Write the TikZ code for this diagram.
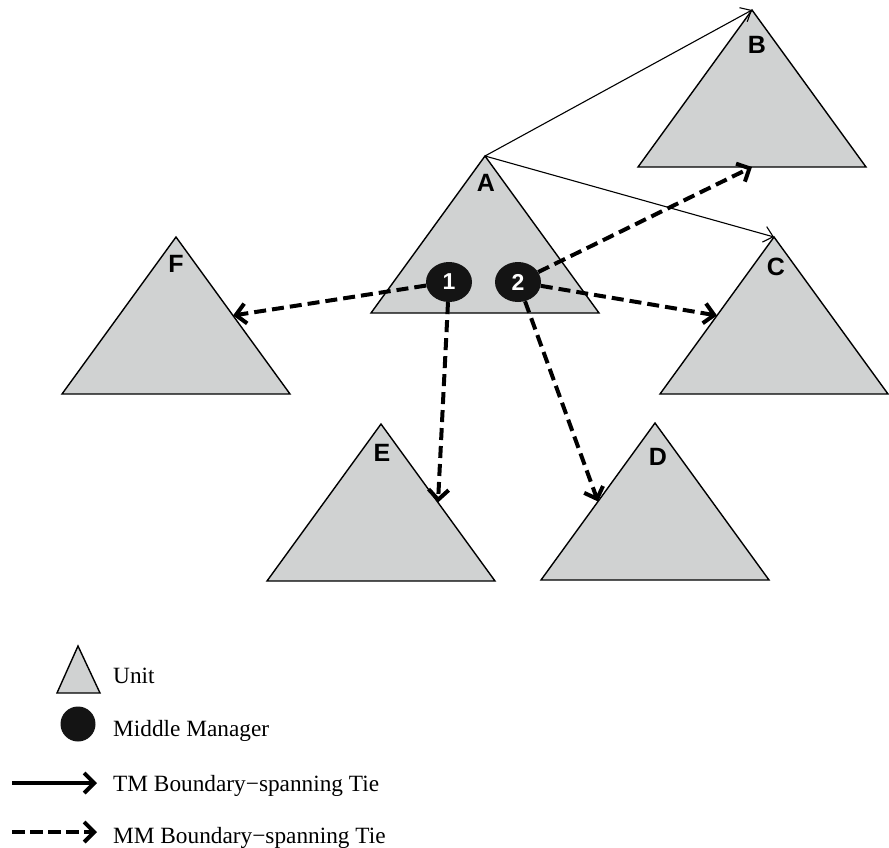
\documentclass[tikz,border=0pt]{standalone}
\usepackage{fontspec}
\setmainfont{Liberation Serif}
\newfontfamily\labelfont{Liberation Sans}
\usetikzlibrary{arrows.meta,calc,shapes.geometric}
\definecolor{unitgray}{RGB}{208,210,210}
\definecolor{mmblack}{RGB}{20,20,20}

\begin{document}
\begin{tikzpicture}[x=1pt,y=-1pt,
  unit/.style={fill=unitgray,draw=black,line width=1.4pt},
  lbl/.style={font=\labelfont\bfseries\fontsize{25}{25}\selectfont,inner sep=0pt},
  mm/.style={ellipse,fill=mmblack,inner sep=0pt,minimum width=46pt,minimum height=40pt,
    text=white,font=\labelfont\bfseries\fontsize{23}{23}\selectfont},
  tmtie/.style={line width=1.1pt,-{Straight Barb[length=9pt,width=16pt]}},
  mmtie/.style={line width=4pt,dash pattern=on 12pt off 6pt,
    -{Straight Barb[length=10pt,width=20pt]}},
  legtext/.style={anchor=base west,inner sep=0pt,font=\fontsize{23.3}{25}\selectfont}]
\useasboundingbox (0,0) rectangle (889,847);

% units
\coordinate (A) at (485,156);
\coordinate (B) at (752,10);
\coordinate (C) at (774,237);
\coordinate (D) at (655,423);
\coordinate (E) at (381,424);
\coordinate (F) at (176,237);
\filldraw[unit] (A) -- ++(114,157) -- ++(-228,0) -- cycle;
\filldraw[unit] (B) -- ++(114,157) -- ++(-228,0) -- cycle;
\filldraw[unit] (C) -- ++(114,157) -- ++(-228,0) -- cycle;
\filldraw[unit] (D) -- ++(114,157) -- ++(-228,0) -- cycle;
\filldraw[unit] (E) -- ++(114,157) -- ++(-228,0) -- cycle;
\filldraw[unit] (F) -- ++(114,157) -- ++(-228,0) -- cycle;
\node[lbl] (A-lbl) at (486,183) {A};
\node[lbl] (B-lbl) at (757,45) {B};
\node[lbl] (C-lbl) at (776,267) {C};
\node[lbl] (D-lbl) at (658,457) {D};
\node[lbl] (E-lbl) at (382,453) {E};
\node[lbl] (F-lbl) at (176,264) {F};

% edge points
\coordinate (B-in) at ($(B)+(0,157)$);
\coordinate (C-in) at ($(C)+(-57,78.5)$);
\coordinate (D-in) at ($(D)+(-57,78.5)$);
\coordinate (E-in) at ($(E)+(57,78.5)$);
\coordinate (F-in) at ($(F)+(57,78.5)$);

% middle managers
\node[mm] (m1) at (449,282) {1};
\node[mm] (m2) at (518,282) {2};

% ties
\draw[tmtie] (A) -- (B);
\draw[tmtie] (A) -- (C);
\draw[mmtie] (m1) -- (F-in);
\draw[mmtie] (m1) -- (E-in);
\draw[mmtie] (m2) -- (D-in);
\draw[mmtie] (m2) -- (C-in);
\draw[mmtie] (m2) -- (B-in);

% legend
\filldraw[unit] (78,646) -- (100,693) -- (57,693) -- cycle;
\node[legtext] (leg-unit) at (113,683) {Unit};
\node[circle,fill=mmblack,minimum size=35pt,inner sep=0pt] (leg-dot) at (78,724) {};
\node[legtext] (leg-mm) at (113,736) {Middle Manager};
\coordinate (leg-tm-a) at (12,783);
\coordinate (leg-tm-b) at (97,783);
\draw[line width=4pt,-{Straight Barb[length=10pt,width=20pt]}] (leg-tm-a) -- (leg-tm-b);
\node[legtext] (leg-tm) at (113,791) {TM Boundary−spanning Tie};
\coordinate (leg-mmt-a) at (12,832);
\coordinate (leg-mmt-b) at (97,832);
\draw[mmtie,dash pattern=on 13pt off 5pt] (leg-mmt-a) -- (leg-mmt-b);
\node[legtext] (leg-mmt) at (113,843) {MM Boundary−spanning Tie};
\end{tikzpicture}
\end{document}
